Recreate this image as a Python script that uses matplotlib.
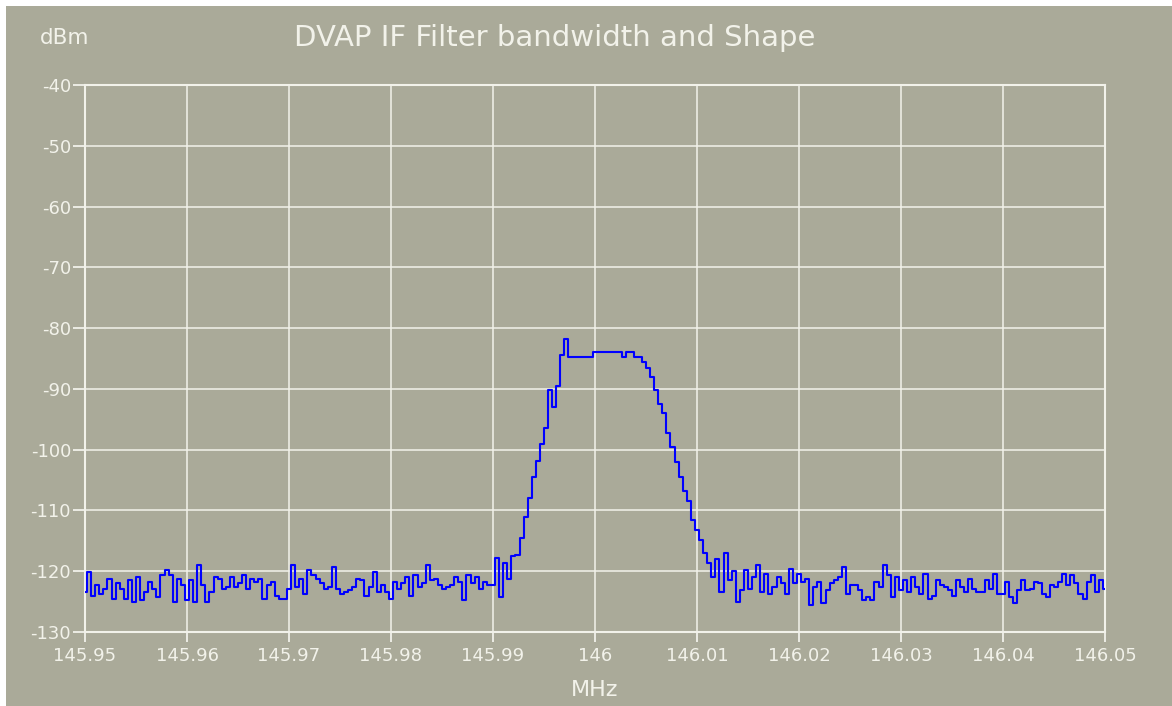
# -*- coding: utf-8 -*-
import numpy as np
import matplotlib
matplotlib.use('Agg')
import matplotlib.pyplot as plt
from matplotlib.patches import Rectangle

# sweep 145.95 .. 146.05 MHz, 251 points
freq_start = 145.95
freq_stop = 146.05
n_points = 251

# noise floor left of the filter (points 0..99)
level_left = [
    -123.5, -120.1, -124.0, -122.3, -123.7, -122.9, -121.2, -124.5, -122.0, -122.9,
    -124.5, -121.5, -125.1, -120.9, -124.8, -123.4, -121.8, -122.9, -124.2, -120.7,
    -119.8, -120.7, -125.1, -121.2, -122.3, -124.8, -121.5, -125.1, -119.0, -122.3,
    -125.1, -123.4, -120.9, -121.2, -122.9, -122.6, -120.9, -122.6, -122.0, -120.7,
    -122.9, -121.2, -121.8, -121.2, -124.5, -122.3, -121.8, -124.0, -124.5, -124.5,
    -122.9, -119.0, -122.6,
    -121.2, -123.7, -119.8, -120.7, -121.2, -122.0, -122.9, -122.6, -119.3, -122.9,
    -123.7, -123.4, -123.1, -122.6, -121.2, -121.5, -124.0, -122.6, -120.1, -123.4,
    -122.3, -123.4, -124.5, -121.8, -122.9, -122.0, -120.9, -124.0, -120.7, -122.6,
    -122.0, -119.0, -121.5, -121.2, -122.3, -122.9, -122.6, -122.3, -120.9, -121.8,
    -124.8, -120.7, -122.0, -120.9, -122.9, -121.8, -122.3,
]

# filter passband (points 100..159)
level_pass = [
    -122.3, -117.8, -124.2, -118.6, -121.2, -117.5, -117.4, -114.5, -111.0, -108.0,
    -104.5, -101.8, -99.0, -96.5, -90.2, -93.0, -89.5, -84.5, -81.8, -84.8,
    -84.8, -84.8, -84.8, -84.8, -84.8, -83.9, -83.9, -83.9, -83.9, -83.9,
    -83.9, -83.9, -84.8, -83.9, -83.9, -84.8, -84.8, -85.5, -86.6, -88.0,
    -90.2, -92.5, -94.0, -97.2, -99.6, -102.0, -104.5, -106.8, -108.5, -111.6,
    -113.2, -114.8, -117.0, -118.6, -121.0, -118.0, -123.5, -117.0, -121.5, -120.0,
]

# noise floor right of the filter (points 160..250)
level_right = [
    -125.1, -123.1, -119.8, -122.9, -120.9, -119.0, -123.4, -120.4, -123.7, -122.6,
    -120.9, -122.0, -123.7, -119.6, -122.0, -120.4, -121.8, -121.2, -125.6, -122.6,
    -121.8, -125.3, -123.1, -122.0, -121.5, -120.9, -119.3, -123.7, -122.3, -122.3,
    -123.1, -124.8, -124.2, -124.8, -121.8, -122.6, -119.0, -120.7, -124.2, -120.9,
    -123.1, -121.5,
    -123.4, -120.9, -122.6, -123.7, -120.4, -124.5, -124.0, -121.5, -122.3, -122.6,
    -123.1, -124.0, -121.5, -122.6, -123.4, -121.2, -122.9, -123.4, -123.4, -121.5,
    -122.9, -120.4, -123.7, -123.7, -121.8, -124.2, -125.3, -123.1, -121.5, -123.1,
    -122.9, -121.8, -122.0, -123.7, -124.2, -122.3, -122.6, -121.8, -120.4, -122.3,
    -120.7, -122.0, -123.7, -124.5, -121.8, -120.7, -123.4, -121.5, -122.9,
]

xticks = [145.95, 145.96, 145.97, 145.98, 145.99, 146.0,
          146.01, 146.02, 146.03, 146.04, 146.05]
xtick_labels = ['145.95', '145.96', '145.97', '145.98', '145.99', '146',
                '146.01', '146.02', '146.03', '146.04', '146.05']
yticks = [-130, -120, -110, -100, -90, -80, -70, -60, -50, -40]

freq = np.linspace(freq_start, freq_stop, n_points)
level = np.array(level_left + level_pass + level_right)

bg = '#AAAA99'
fg = '#F2F2EA'

plt.rcParams['axes.unicode_minus'] = False
plt.rcParams['font.family'] = 'DejaVu Sans'

fig = plt.figure(figsize=(11.72, 7.06), dpi=100, facecolor=bg)
# thin white frame on top and left edge
fig.patches.append(Rectangle((0, 0), 6/1172, 1, transform=fig.transFigure,
                             facecolor='white', edgecolor='none', zorder=-1))
fig.patches.append(Rectangle((0, 1-6/706), 1, 6/706, transform=fig.transFigure,
                             facecolor='white', edgecolor='none', zorder=-1))

ax = fig.add_axes([85/1172, 1-632/706, 1020/1172, 547/706])
ax.set_facecolor(bg)
ax.plot(freq, level, color='#0000FF', linewidth=1.5, drawstyle='steps-mid', zorder=3)

ax.set_xlim(freq_start, freq_stop)
ax.set_ylim(-130, -40)
ax.set_xticks(xticks)
ax.set_xticklabels(xtick_labels)
ax.set_yticks(yticks)

ax.grid(True, color=fg, linewidth=1.1)
for s in ax.spines.values():
    s.set_color(fg)
    s.set_linewidth(1.5)
ax.tick_params(axis='x', colors=fg, length=7, width=1.3, pad=4, labelsize=13)
ax.tick_params(axis='y', colors=fg, length=9, width=1.3, pad=1, labelsize=13)

fig.text(555/1172, 1-38/706, 'DVAP IF Filter bandwidth and Shape', color=fg,
         fontsize=21, ha='center', va='center')
fig.text(40/1172, 1-38/706, 'dBm', color=fg, fontsize=15.5, ha='left', va='center')
fig.text(595/1172, 1-690/706, 'MHz', color=fg, fontsize=16, ha='center', va='center')

plt.savefig('out.png', dpi=100, facecolor=bg)
